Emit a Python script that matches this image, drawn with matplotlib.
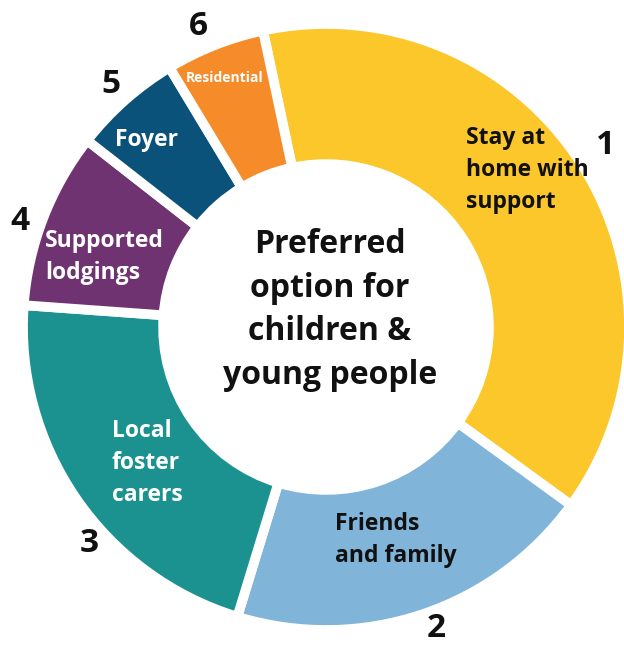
import matplotlib
matplotlib.use("Agg")
import matplotlib.pyplot as plt
import numpy as np

plt.rcParams['font.family'] = ['Open Sans', 'DejaVu Sans']

categories = ["Stay at\nhome with\nsupport", "Friends\nand family", "Local\nfoster\ncarers",
              "Supported\nlodgings", "Foyer", "Residential"]
ranks = ["1", "2", "3", "4", "5", "6"]
values = [38.3, 19.7, 21.4, 9.4, 5.8, 5.3]
centre_title = "Preferred\noption for\nchildren &\nyoung people"

colors = ["#FCC72B", "#80B4D9", "#1B9190", "#6E3370", "#0B527A", "#F68B2A"]
text_colors = ["#111111", "#111111", "white", "white", "white", "white"]

# Layout (pixels in the 624x645 canvas, centre of donut at (326, 327), 300 px = 1 unit)
W, H = 624, 645
CX, CY, SCALE = 326, 327, 300.0

def px(x, y):
    return (x - CX) / SCALE, (CY - y) / SCALE

label_pos = [(466, 170), (335, 540), (112, 463), (45, 257), (147, 140), (225, 78)]
label_ha = ["left", "left", "left", "left", "center", "center"]
label_size = [16.5, 16.5, 16.5, 16.5, 16.5, 10]
rank_radius = [1.11, 1.07, 1.07, 1.08, 1.08, 1.09]
rank_shift = [0, 1.5, 8, 2, 0, 1.5]   # degrees, nudges number around the ring

fig = plt.figure(figsize=(W / 100, H / 100), dpi=100)
ax = fig.add_axes([0, 0, 1, 1])

wedges, _ = ax.pie(values, colors=colors, startangle=102, counterclock=False,
                   radius=1.01,
                   wedgeprops=dict(width=0.467, edgecolor="white", linewidth=7))

ax.set_xlim(-CX / SCALE, (W - CX) / SCALE)
ax.set_ylim((CY - H) / SCALE, CY / SCALE)
ax.set_aspect("auto")
ax.axis("off")

# segment labels
for i, w in enumerate(wedges):
    x, y = px(*label_pos[i])
    ax.text(x, y, categories[i], ha=label_ha[i], va="center",
            fontsize=label_size[i], fontweight="bold", color=text_colors[i],
            linespacing=1.45)

    mid = np.deg2rad((w.theta1 + w.theta2) / 2 + rank_shift[i])
    ax.text(rank_radius[i] * np.cos(mid), rank_radius[i] * np.sin(mid), ranks[i],
            ha="center", va="center", fontsize=24, fontweight="bold", color="#111111")

x, y = px(330, 310)
ax.text(x, y, centre_title, ha="center", va="center", fontsize=23,
        fontweight="bold", color="#111111", linespacing=1.42)

fig.savefig("out.png", dpi=100, facecolor="white")
